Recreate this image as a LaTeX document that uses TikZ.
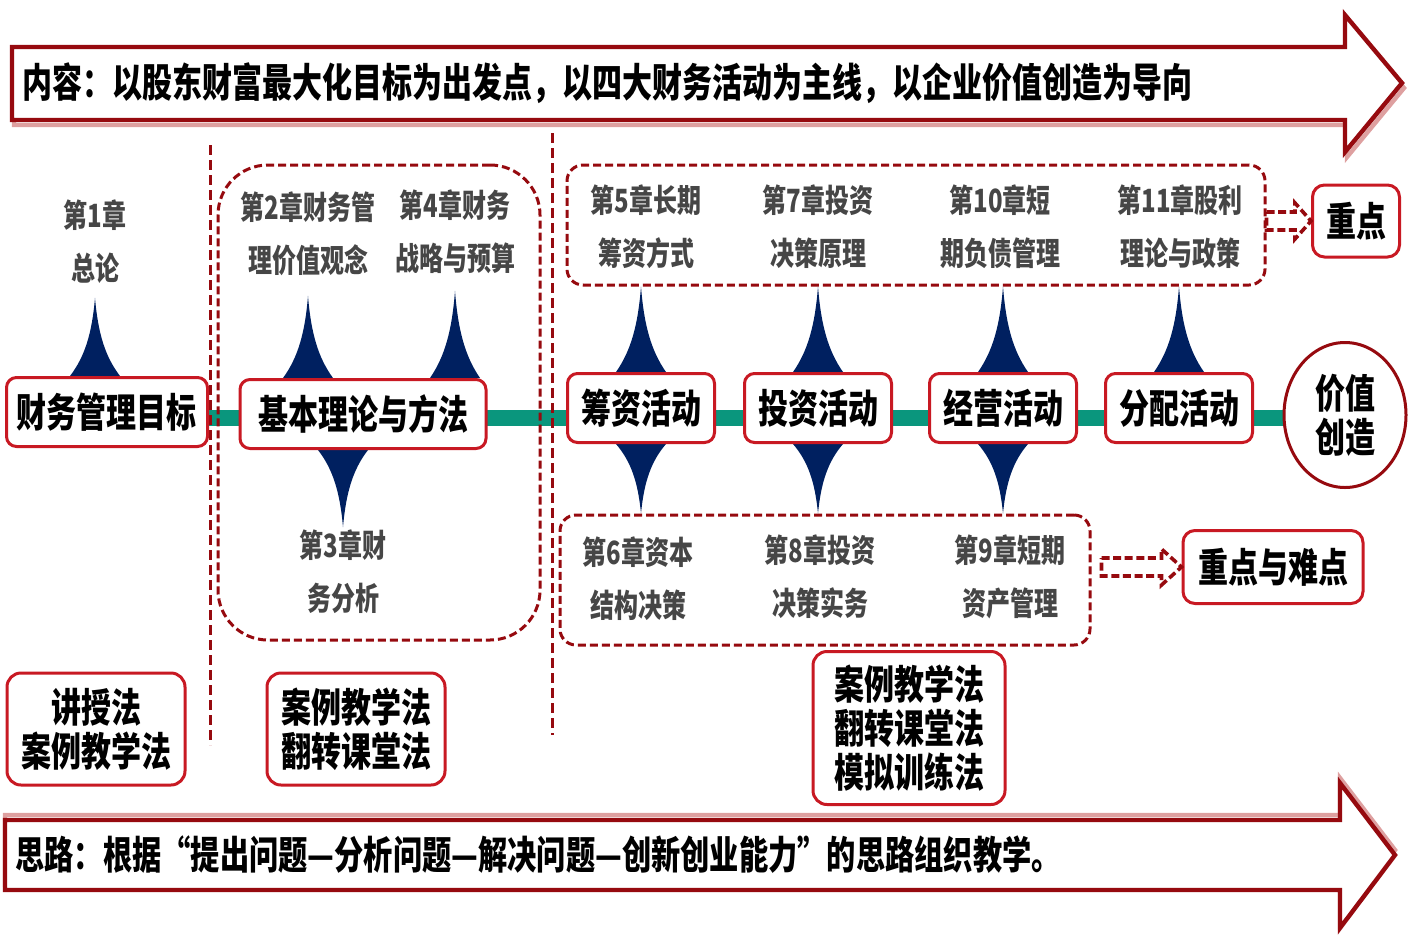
\documentclass[tikz,border=0pt]{standalone}
\usepackage{fontspec}
\newfontfamily\cjk[FakeStretch=0.75]{Noto Sans CJK SC}
\usetikzlibrary{shapes.geometric,calc,backgrounds}
\definecolor{darkred}{RGB}{150,10,15}
\definecolor{boxred}{RGB}{200,25,35}
\definecolor{pinkshade}{RGB}{222,160,160}
\definecolor{spikeblue}{RGB}{0,32,96}
\definecolor{linegreen}{RGB}{10,150,125}
\definecolor{chapgray}{RGB}{70,70,70}
\tikzset{
  actbox/.style={draw=boxred, line width=1.5pt, fill=white, rounded corners=5pt, minimum height=34.5pt, inner sep=0pt, font=\cjk\bfseries\fontsize{20}{23}\selectfont},
  chap/.style={align=center, text=chapgray, inner sep=0pt, font=\cjk\bfseries\fontsize{16}{26.5}\selectfont},
  grp/.style={draw=darkred, line width=1.5pt, dash pattern=on 4pt off 2pt, rounded corners=#1},
  grp/.default=8pt,
  method/.style={draw=boxred, line width=1.5pt, fill=white, rounded corners=7pt, align=center, inner sep=0pt, font=\cjk\bfseries\fontsize{20}{22}\selectfont},
  keybox/.style={draw=boxred, line width=1.5pt, fill=white, rounded corners=6pt, inner sep=0pt, font=\cjk\bfseries\fontsize{20}{23}\selectfont},
  bigarrow/.style={draw=darkred, line width=2.2pt, fill=white, line join=miter},
  mainline/.style={draw=linegreen, line width=8pt},
  divider/.style={draw=darkred, line width=1.5pt, dash pattern=on 5pt off 2.5pt},
}
\newcommand\drawspike[2]{\fill[spikeblue] let \p1=(#1), \p2=(#2), \n1={\y2-\y1} in
  (\x1-12.5pt,\y1) .. controls ({\x1-5pt},{\y1+0.25*\n1}) and ({\x1-1.5pt},{\y1+0.55*\n1}) .. (\x2,\y2)
  .. controls ({\x1+1.5pt},{\y1+0.55*\n1}) and ({\x1+5pt},{\y1+0.25*\n1}) .. (\x1+12.5pt,\y1) -- cycle;}
\newcommand\hollowarrow[3]{\draw[darkred, line width=1.8pt, dash pattern=on 4pt off 1.8pt] let \p1=(#1), \p2=(#2) in
  (\x1,\y2+4.5pt) -- (\x2-#3,\y2+4.5pt) -- (\x2-#3,\y2+9pt) -- (\x2,\y2) -- (\x2-#3,\y2-9pt) -- (\x2-#3,\y2-4.5pt) -- (\x1,\y2-4.5pt) -- cycle;}

\begin{document}
\begin{tikzpicture}[x=0.5pt, y=-0.5pt]
\useasboundingbox (0,0) rectangle (1413,938);

\draw[pinkshade, line width=2.2pt, shift={(2,5)}] (12,47) -- (1345,47) -- (1345,15) -- (1402,83) -- (1345,152) -- (1345,120) -- (12,120) -- cycle;
\draw[bigarrow] (12,47) -- (1345,47) -- (1345,15) -- (1402,83) -- (1345,152) -- (1345,120) -- (12,120) -- cycle;
\node[anchor=west, inner sep=0pt, font=\cjk\bfseries\fontsize{20}{23}\selectfont] (content) at (22,83) {内容：以股东财富最大化目标为出发点，以四大财务活动为主线，以企业价值创造为导向};

\draw[pinkshade, line width=2.2pt, shift={(0,-5)}] (5,820) -- (1340,820) -- (1340,783) -- (1395,855) -- (1340,928) -- (1340,890) -- (5,890) -- cycle;
\draw[bigarrow] (5,820) -- (1340,820) -- (1340,783) -- (1395,855) -- (1340,928) -- (1340,890) -- (5,890) -- cycle;
\node[anchor=west, inner sep=0pt, font=\cjk\bfseries\fontsize{19.5}{23}\selectfont] (idea) at (15,855) {思路：根据“提出问题—分析问题—解决问题—创新创业能力”的思路组织教学。};

\coordinate (d1t) at (210,145);
\coordinate (d1b) at (210,745);
\coordinate (d2t) at (552,133);
\coordinate (d2b) at (552,735);
\draw[divider] (d1t) -- (d1b);
\draw[divider] (d2t) -- (d2b);

\node[grp=25pt, minimum width=161pt, minimum height=237.5pt] (grpA) at (379,402.5) {};
\node[grp, minimum width=349pt, minimum height=60pt] (grpB) at (916,225) {};
\node[grp, minimum width=265pt, minimum height=65pt] (grpC) at (825,580) {};

\node[actbox, minimum width=100.5pt] (goal) at (107,412) {财务管理目标};
\node[actbox, minimum width=123pt] (theory) at (363,414) {基本理论与方法};
\node[actbox, minimum width=73.5pt] (chou) at (641,408) {筹资活动};
\node[actbox, minimum width=73.5pt] (tou) at (818,408) {投资活动};
\node[actbox, minimum width=73.5pt] (jing) at (1003,408) {经营活动};
\node[actbox, minimum width=73.5pt] (fen) at (1179,408) {分配活动};
\node[ellipse, draw=darkred, line width=1.5pt, fill=white, minimum width=61pt, minimum height=72.5pt, inner sep=0pt, align=center, font=\cjk\bfseries\fontsize{20}{22}\selectfont] (value) at (1345,415) {价值\\创造};

\node[chap] (ch1) at (95,241.5) {第1章\\总论};
\node[chap] (ch2) at (308,233.5) {第2章财务管\\理价值观念};
\node[chap] (ch4) at (455,231.5) {第4章财务\\战略与预算};
\node[chap] (ch3) at (343,571.5) {第3章财\\务分析};
\node[chap] (ch5) at (646,226.5) {第5章长期\\筹资方式};
\node[chap] (ch7) at (818,226.5) {第7章投资\\决策原理};
\node[chap] (ch10) at (1000,226.5) {第10章短\\期负债管理};
\node[chap] (ch11) at (1180,226.5) {第11章股利\\理论与政策};
\node[chap] (ch6) at (638,578.5) {第6章资本\\结构决策};
\node[chap] (ch8) at (820,576.5) {第8章投资\\决策实务};
\node[chap] (ch9) at (1010,576.5) {第9章短期\\资产管理};

\node[keybox, minimum width=43.5pt, minimum height=36pt] (zd) at (1356,221) {重点};
\node[keybox, minimum width=90pt, minimum height=36.5pt] (zdnd) at (1273,567) {重点与难点};

\node[method, minimum width=89pt, minimum height=56pt] (m1) at (96,729) {讲授法\\案例教学法};
\node[method, minimum width=89pt, minimum height=56pt] (m2) at (356,729) {案例教学法\\翻转课堂法};
\node[method, minimum width=96pt, minimum height=76.5pt] (m3) at (909,728) {案例教学法\\翻转课堂法\\模拟训练法};

\hollowarrow{grpB.east}{zd.west}{8pt}
\hollowarrow{$(grpC.east)+(10,0)$}{zdnd.west}{10pt}

\begin{pgfonlayer}{background}
\draw[mainline] ([yshift=-3pt]goal.center) -- ([yshift=-3pt]goal.center -| value.center);
\drawspike{goal.north -| ch1.south}{$(ch1.south)+(0,14)$}
\drawspike{theory.north -| ch2.south}{$(ch2.south)+(0,20)$}
\drawspike{theory.north -| ch4.south}{$(ch4.south)+(0,17)$}
\drawspike{theory.south -| ch3.north}{$(ch3.north)+(0,-2)$}
\drawspike{chou.north}{chou.north |- grpB.south}
\drawspike{tou.north}{tou.north |- grpB.south}
\drawspike{jing.north}{jing.north |- grpB.south}
\drawspike{fen.north}{fen.north |- grpB.south}
\drawspike{chou.south}{chou.south |- grpC.north}
\drawspike{tou.south}{tou.south |- grpC.north}
\drawspike{jing.south}{jing.south |- grpC.north}
\end{pgfonlayer}
\end{tikzpicture}
\end{document}
